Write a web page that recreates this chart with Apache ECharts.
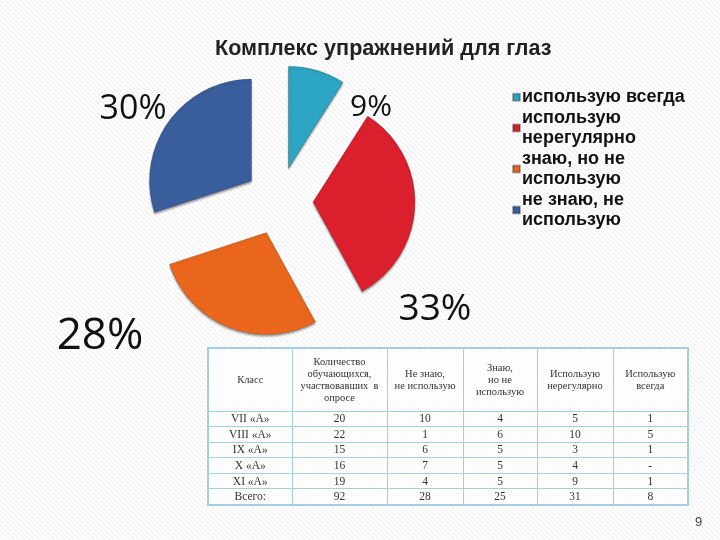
<!DOCTYPE html>
<html>
<head>
<meta charset="utf-8">
<script src="https://cdn.jsdelivr.net/npm/echarts@6/dist/echarts.min.js"></script>
<style>
html,body{margin:0;padding:0;background:#fff;}
#wrap{position:relative;width:720px;height:540px;overflow:hidden;}
#chart{position:absolute;left:0;top:0;width:720px;height:540px;}
#tbl{position:absolute;left:207px;top:347px;width:482px;table-layout:fixed;border-collapse:collapse;font-family:"Liberation Serif","DejaVu Serif",serif;color:#333;background:rgba(255,255,255,0.6);border:2px solid #a2d0e2;}
#tbl td{border:1px solid #a2d0e2;text-align:center;padding:0;font-size:11.5px;line-height:13px;box-sizing:border-box;}
#tbl tr{height:15.6px;}
#tbl tr.h{height:63px;}
#tbl tr.h td{font-size:10.5px;line-height:12px;}
#pg{position:absolute;left:695px;top:514px;font:13px "Liberation Sans",sans-serif;color:#444;}
</style>
</head>
<body>
<div id="wrap">
<div id="chart"></div>
<table id="tbl"></table>
<div id="pg">9</div>
</div>
<script>
// ---- data ----
var categories = ['использую всегда', 'использую\nнерегулярно', 'знаю, но не\nиспользую', 'не знаю, не\nиспользую'];
var percentValues = [9, 33, 28, 30];
var colors = ['#2BA5C1', '#DC1F2D', '#EA661C', '#3A5E9C'];

var tableHeader = ['Класс', 'Количество<br>обучающихся,<br>участвовавших &nbsp;в<br>опросе', 'Не знаю,<br>не использую', 'Знаю,<br>но не<br>использую', 'Использую<br>нерегулярно', 'Использую<br>всегда'];
var classes = ['VII «А»', 'VIII «А»', 'IX «А»', 'X «А»', 'XI «А»', 'Всего:'];
var participants = ['20', '22', '15', '16', '19', '92'];
var dontKnow = ['10', '1', '6', '7', '4', '28'];
var knowNotUse = ['4', '6', '5', '5', '5', '25'];
var useIrregular = ['5', '10', '3', '4', '9', '31'];
var useAlways = ['1', '5', '1', '-', '1', '8'];

// ---- layout ----
var labelPos = [[371, 107], [435, 309], [100, 336], [133, 109]];
var labelSize = [30, 37, 44, 34];
var colWidths = [84, 95, 76, 74, 76, 75];

// table
var tbl = document.getElementById('tbl');
var html = '<colgroup>';
colWidths.forEach(function (w) { html += '<col style="width:' + w + 'px">'; });
html += '</colgroup><tr class="h">';
tableHeader.forEach(function (t) { html += '<td>' + t + '</td>'; });
html += '</tr>';
for (var r = 0; r < classes.length; r++) {
  html += '<tr><td>' + classes[r] + '</td><td>' + participants[r] + '</td><td>' + dontKnow[r] + '</td><td>' + knowNotUse[r] + '</td><td>' + useIrregular[r] + '</td><td>' + useAlways[r] + '</td></tr>';
}
tbl.innerHTML = html;

// background hatch
var pc = document.createElement('canvas');
pc.width = 5; pc.height = 5;
var g = pc.getContext('2d');
g.fillStyle = '#ffffff'; g.fillRect(0, 0, 5, 5);
g.strokeStyle = '#ececec'; g.lineWidth = 1;
g.beginPath(); g.moveTo(-1, -1); g.lineTo(6, 6); g.stroke();

var chart = echarts.init(document.getElementById('chart'), null, {renderer: 'canvas'});
var data = categories.map(function (n, i) {
  return {name: n, value: percentValues[i], selected: true, itemStyle: {color: colors[i]}};
});
var labels = percentValues.map(function (v, i) {
  return {
    type: 'text', x: labelPos[i][0], y: labelPos[i][1], z: 10,
    style: {text: v + '%', fontFamily: 'Open Sans', fontSize: labelSize[i], fill: '#111', align: 'center', verticalAlign: 'middle'}
  };
});
chart.setOption({
  animation: false,
  backgroundColor: {image: pc, repeat: 'repeat'},
  title: {
    text: 'Комплекс упражнений для глаз',
    left: 210, top: 33,
    textStyle: {fontFamily: 'Liberation Sans', fontWeight: 'bold', fontSize: 21.6, color: '#222'}
  },
  legend: {
    orient: 'vertical', left: 507, top: 82,
    itemWidth: 7, itemHeight: 7, itemGap: 0,
    icon: 'rect', selectedMode: false,
    data: categories,
    textStyle: {fontFamily: 'Liberation Sans', fontWeight: 'bold', fontSize: 18, lineHeight: 20.5, color: '#111', padding: [0, 0, 0, -3]}
  },
  graphic: labels,
  series: [{
    type: 'pie',
    center: [279, 201],
    radius: 102,
    startAngle: 90,
    clockwise: true,
    selectedMode: 'multiple',
    selectedOffset: 34,
    emphasis: {disabled: true, scale: false},
    itemStyle: {borderColor: 'rgba(40,40,40,0.35)', borderWidth: 0.6, shadowColor: 'rgba(0,0,0,0.35)', shadowOffsetY: 2, shadowBlur: 2},
    label: {show: false},
    labelLine: {show: false},
    data: data
  }]
});
</script>
</body>
</html>
